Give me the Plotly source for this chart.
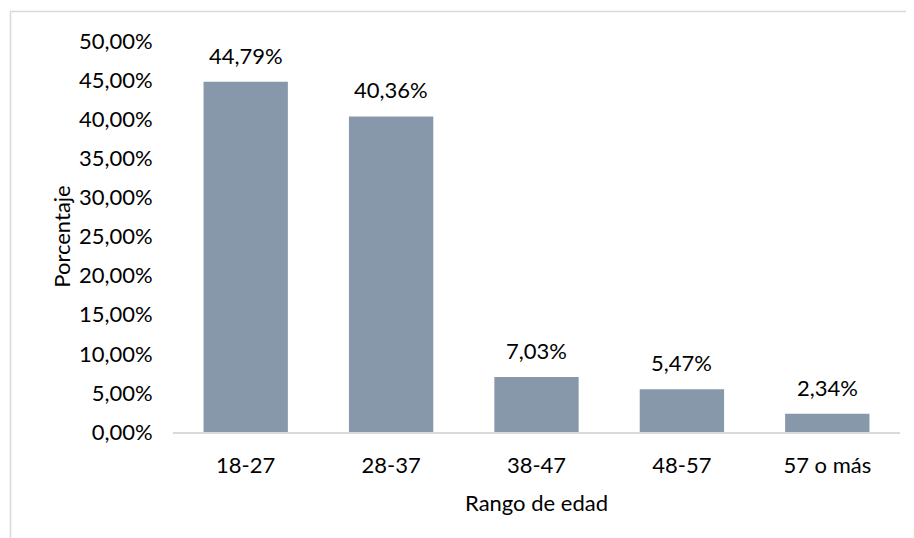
import plotly.graph_objects as go

categories = ["18-27", "28-37", "38-47", "48-57", "57 o más"]
values = [0.4479, 0.4036, 0.0703, 0.0547, 0.0234]
y_ticks = [0, 0.05, 0.10, 0.15, 0.20, 0.25, 0.30, 0.35, 0.40, 0.45, 0.50]

FONT = "Lato"
SIZE = 22
BAR = "#8698AA"
GRAY = "#D9D9D9"

fig = go.Figure(go.Bar(x=categories, y=values, marker=dict(color=BAR, line=dict(width=0)),
                       hoverinfo="skip"))

for c, v in zip(categories, values):
    fig.add_annotation(x=c, y=v, text=f"{v*100:.2f}%".replace(".", ","), showarrow=False,
                       yanchor="bottom", yshift=11, font=dict(family=FONT, size=SIZE, color="#000"))

# page has an 8px body margin; figure coordinates below are page coords minus 8
OFF = 8
L, R, T, B = 173 - OFF, 14, 41 - OFF, 106
W, H = 914 - OFF, 538 - OFF
pw, ph = W - L - R, H - T - B
def px(x): return (x - OFF - L) / pw
def py(y): return (H - B - (y - OFF)) / ph

fig.add_shape(type="line", xref="paper", yref="paper", x0=px(10), x1=px(930), y0=py(11.5), y1=py(11.5),
              line=dict(color=GRAY, width=1.5))
fig.add_shape(type="line", xref="paper", yref="paper", x0=px(10.5), x1=px(10.5), y0=py(11.5), y1=py(560),
              line=dict(color=GRAY, width=1.5))

fig.update_layout(
    width=W, height=H, margin=dict(l=L, r=R, t=T, b=B),
    paper_bgcolor="white", plot_bgcolor="white",
    separators=",.", bargap=0.42, showlegend=False,
    font=dict(family=FONT, size=SIZE, color="#000"),
    xaxis=dict(showline=True, linecolor=GRAY, linewidth=1.5, ticks="outside", ticklen=13,
               tickcolor="rgba(0,0,0,0)", showgrid=False,
               title=dict(text="Rango de edad", standoff=18, font=dict(size=SIZE))),
    yaxis=dict(range=[0, 0.5], tickvals=y_ticks, tickformat=".2%", showgrid=False, zeroline=False,
               showline=False, ticks="outside", ticklen=15, tickcolor="rgba(0,0,0,0)",
               title=dict(text="Porcentaje", standoff=2, font=dict(size=SIZE))),
)

fig.write_html("out.html")
